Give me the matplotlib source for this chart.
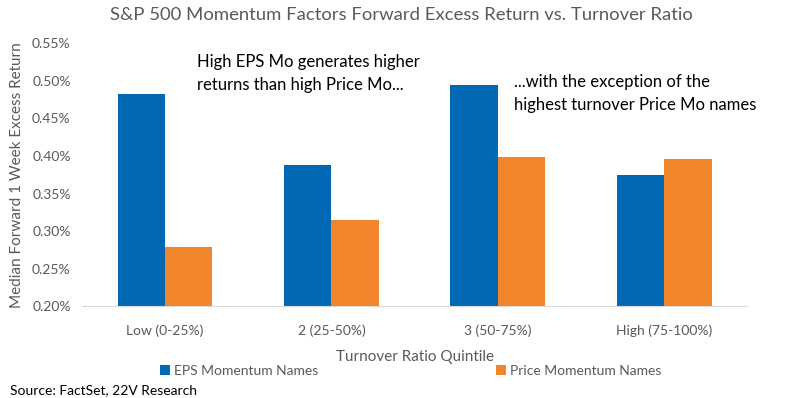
import matplotlib
matplotlib.use("Agg")
import numpy as np
from matplotlib import pyplot as plt
from matplotlib.ticker import FuncFormatter

plt.rcParams['font.family'] = ['Lato', 'DejaVu Sans']

categories = ["Low (0-25%)", "2 (25-50%)", "3 (50-75%)", "High (75-100%)"]
eps_mo = [0.482, 0.388, 0.494, 0.375]
price_mo = [0.279, 0.315, 0.399, 0.396]
series_names = ["EPS Momentum Names", "Price Momentum Names"]

blue = "#0068b5"
orange = "#f0852b"
grey = "#595959"

fig = plt.figure(figsize=(8.02, 3.98), dpi=100)
ax = fig.add_axes([0.102, 0.23, 0.83, 0.662])

x = np.arange(len(categories))
w = 0.285
ax.bar(x - w / 2, eps_mo, w, color=blue, label=series_names[0])
ax.bar(x + w / 2, price_mo, w, color=orange, label=series_names[1])

ax.set_xlim(-0.5, 3.5)
ax.set_ylim(0.20, 0.55)
ax.set_yticks(np.arange(0.20, 0.551, 0.05))
ax.yaxis.set_major_formatter(FuncFormatter(lambda v, p: f"{v:.2f}%"))
ax.set_xticks(x)
ax.set_xticklabels(categories)
ax.tick_params(axis='both', length=0, labelsize=10, colors=grey)
ax.tick_params(axis='x', pad=13)
ax.tick_params(axis='y', pad=8)
for s in ['top', 'right', 'left']:
    ax.spines[s].set_visible(False)
ax.spines['bottom'].set_color("#d9d9d9")

ax.set_ylabel("Median Forward 1 Week Excess Return", fontsize=11, color=grey, labelpad=6)
ax.set_xlabel("Turnover Ratio Quintile", fontsize=11, color=grey, labelpad=9)

fig.text(0.5, 0.962, "S&P 500 Momentum Factors Forward Excess Return vs. Turnover Ratio",
         ha='center', va='center', fontsize=13.3, color=grey)

ax.text(0.19, 0.536, "High EPS Mo generates higher\nreturns than high Price Mo...",
        ha='left', va='top', fontsize=12, color='black', linespacing=1.55)
ax.text(2.10, 0.509, "...with the exception of the\nhighest turnover Price Mo names",
        ha='left', va='top', fontsize=12, color='black', linespacing=1.55)

leg = fig.legend(loc='center', bbox_to_anchor=(0.512, 0.068), ncol=2, frameon=False,
                 fontsize=10, handlelength=0.7, handleheight=0.7, handletextpad=0.3,
                 columnspacing=12.8)
for t in leg.get_texts():
    t.set_color(grey)

fig.text(0.012, 0.02, "Source: FactSet, 22V Research", ha='left', va='center',
         fontsize=10, color='black')

fig.savefig("out.png", dpi=100)
